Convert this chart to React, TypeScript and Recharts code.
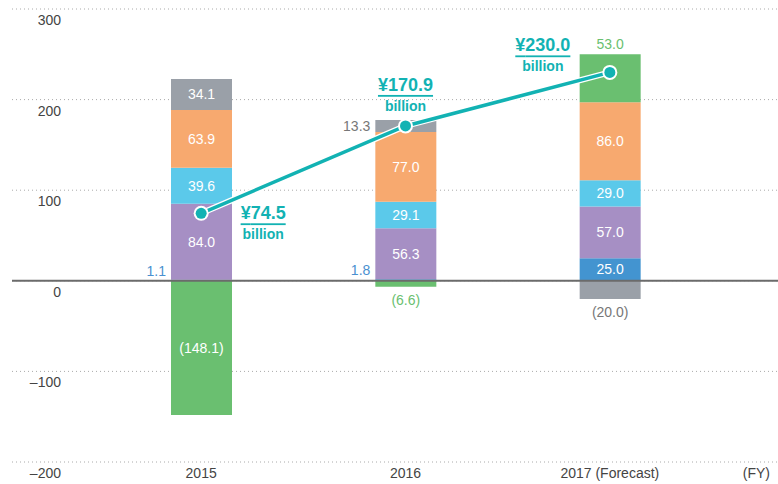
import {
  ComposedChart,
  Bar,
  Line,
  XAxis,
  YAxis,
  CartesianGrid,
  ReferenceLine,
  LabelList,
} from "recharts";

const years = ["2015", "2016", "2017 (Forecast)"];
const baseValues = [1.1, 1.8, 25.0];
const purpleValues = [84.0, 56.3, 57.0];
const lightBlueValues = [39.6, 29.1, 29.0];
const orangeValues = [63.9, 77.0, 86.0];
const grayValues = [34.1, 13.3, -20.0];
const greenValues = [-148.1, -6.6, 53.0];
const totalValues = [74.5, 170.9, 230.0];
const yTicks = [-200, -100, 0, 100, 200, 300];

const data = years.map((year, i) => ({
  year,
  base: baseValues[i],
  purple: purpleValues[i],
  lightBlue: lightBlueValues[i],
  orange: orangeValues[i],
  gray: grayValues[i],
  green: greenValues[i],
  total: totalValues[i],
}));

const FONT = '"Liberation Sans", Arial, sans-serif';
const TEAL = "#12b2b3";
const TEXT = "#444";

const fmt = (v: number) => (v < 0 ? `(${Math.abs(v).toFixed(1)})` : v.toFixed(1));

type Placement = "inside" | "left" | "above" | "below";

function segmentLabel(color: string, rule: (v: number) => Placement) {
  return (props: any) => {
    const vb = props.viewBox ?? props;
    const x = Number(vb.x);
    const w = Number(vb.width);
    const top = Math.min(vb.y, vb.y + vb.height);
    const bottom = Math.max(vb.y, vb.y + vb.height);
    const v = Number(props.value);
    if (!v) return null;
    const place = rule(v);
    const common = { fontSize: 14, fontFamily: FONT };
    if (place === "inside") {
      return (
        <text x={x + w / 2} y={(top + bottom) / 2} textAnchor="middle" dominantBaseline="central" fill="#fff" {...common}>
          {fmt(v)}
        </text>
      );
    }
    if (place === "left") {
      const cy = bottom - top < 6 ? top - 9 : (top + bottom) / 2;
      return (
        <text x={x - 5} y={cy} textAnchor="end" dominantBaseline="central" fill={color} {...common}>
          {fmt(v)}
        </text>
      );
    }
    if (place === "above") {
      return (
        <text x={x + w / 2} y={top - 10} textAnchor="middle" dominantBaseline="central" fill={color} {...common}>
          {fmt(v)}
        </text>
      );
    }
    return (
      <text x={x + w / 2} y={bottom + 13} textAnchor="middle" dominantBaseline="central" fill={color} {...common}>
        {fmt(v)}
      </text>
    );
  };
}

const totalLabelOffsets = [
  { dx: 62, dy: 0 },
  { dx: 0, dy: -41 },
  { dx: -67, dy: -27 },
];

// point marker + "¥xx.x billion" callout, drawn on top of the line
const TotalLabel = (props: any) => {
  const { x, y, value, index } = props;
  const o = totalLabelOffsets[index] ?? { dx: 0, dy: -30 };
  return (
    <g>
      <circle cx={x} cy={y} r={7.5} fill="#ffffff" />
      <circle cx={x} cy={y} r={5.5} fill={TEAL} />
      <text
        x={x + o.dx}
        y={y + o.dy}
        textAnchor="middle"
        dominantBaseline="central"
        fontSize={18}
        fontWeight={700}
        fontFamily={FONT}
        fill={TEAL}
        textDecoration="underline"
      >
        ¥{Number(value).toFixed(1)}
      </text>
      <text
        x={x + o.dx}
        y={y + o.dy + 21}
        textAnchor="middle"
        dominantBaseline="central"
        fontSize={14}
        fontWeight={700}
        fontFamily={FONT}
        fill={TEAL}
      >
        billion
      </text>
    </g>
  );
};

const YTick = (props: any) => {
  const { x, y, payload } = props;
  const v = Number(payload.value);
  return (
    <text x={x} y={y} dx={49} dy={16} textAnchor="end" fontSize={14} fontFamily={FONT} fill={TEXT}>
      {v < 0 ? `–${Math.abs(v)}` : `${v}`}
    </text>
  );
};

const XTick = (props: any) => {
  const { x, y, payload } = props;
  return (
    <text x={x} y={y} dy={16} textAnchor="middle" fontSize={14} fontFamily={FONT} fill={TEXT}>
      {payload.value}
    </text>
  );
};

export default function App() {
  return (
    <div style={{ position: "absolute", left: 0, top: 0, background: "#fff" }}>
      <ComposedChart
        width={778}
        height={484}
        data={data}
        stackOffset="sign"
        margin={{ top: 9, right: 0, bottom: 0, left: 12 }}
      >
        <CartesianGrid vertical={false} stroke="#aaa" strokeDasharray="1 3" />
        <XAxis
          dataKey="year"
          height={22}
          axisLine={false}
          tickLine={false}
          tickSize={0}
          tickMargin={0}
          padding={{ left: 87, right: 66 }}
          tick={<XTick />}
          interval={0}
          label={{ value: "(FY)", position: "insideRight", offset: 8, fontSize: 14, fill: TEXT, fontFamily: FONT }}
        />
        <YAxis
          mirror
          domain={[-200, 300]}
          ticks={yTicks}
          axisLine={false}
          tickLine={false}
          tickSize={0}
          tickMargin={0}
          tick={<YTick />}
          allowDataOverflow
        />
        <Bar dataKey="base" stackId="a" fill="#4394d0" barSize={61} isAnimationActive={false}>
          <LabelList dataKey="base" content={segmentLabel("#4a90d0", (v) => (v < 10 ? "left" : "inside"))} />
        </Bar>
        <Bar dataKey="purple" stackId="a" fill="#a68fc4" barSize={61} isAnimationActive={false}>
          <LabelList dataKey="purple" content={segmentLabel("#fff", () => "inside")} />
        </Bar>
        <Bar dataKey="lightBlue" stackId="a" fill="#5bc9ea" barSize={61} isAnimationActive={false}>
          <LabelList dataKey="lightBlue" content={segmentLabel("#fff", () => "inside")} />
        </Bar>
        <Bar dataKey="orange" stackId="a" fill="#f7a96f" barSize={61} isAnimationActive={false}>
          <LabelList dataKey="orange" content={segmentLabel("#fff", () => "inside")} />
        </Bar>
        <Bar dataKey="gray" stackId="a" fill="#9aa0a8" barSize={61} isAnimationActive={false}>
          <LabelList
            dataKey="gray"
            content={segmentLabel("#777", (v) => (v < 0 ? "below" : v < 20 ? "left" : "inside"))}
          />
        </Bar>
        <Bar dataKey="green" stackId="a" fill="#6abf70" barSize={61} isAnimationActive={false}>
          <LabelList
            dataKey="green"
            content={segmentLabel("#6abf70", (v) => (v > 0 ? "above" : v > -20 ? "below" : "inside"))}
          />
        </Bar>
        <ReferenceLine y={0} stroke="#6b6b6b" strokeWidth={2} />
        {/* white casing under the teal line */}
        <Line
          dataKey="total"
          stroke="#ffffff"
          strokeWidth={6}
          dot={false}
          activeDot={false}
          legendType="none"
          isAnimationActive={false}
        />
        <Line
          dataKey="total"
          stroke={TEAL}
          strokeWidth={3.5}
          dot={false}
          activeDot={false}
          isAnimationActive={false}
        >
          <LabelList dataKey="total" content={<TotalLabel />} />
        </Line>
      </ComposedChart>
    </div>
  );
}
